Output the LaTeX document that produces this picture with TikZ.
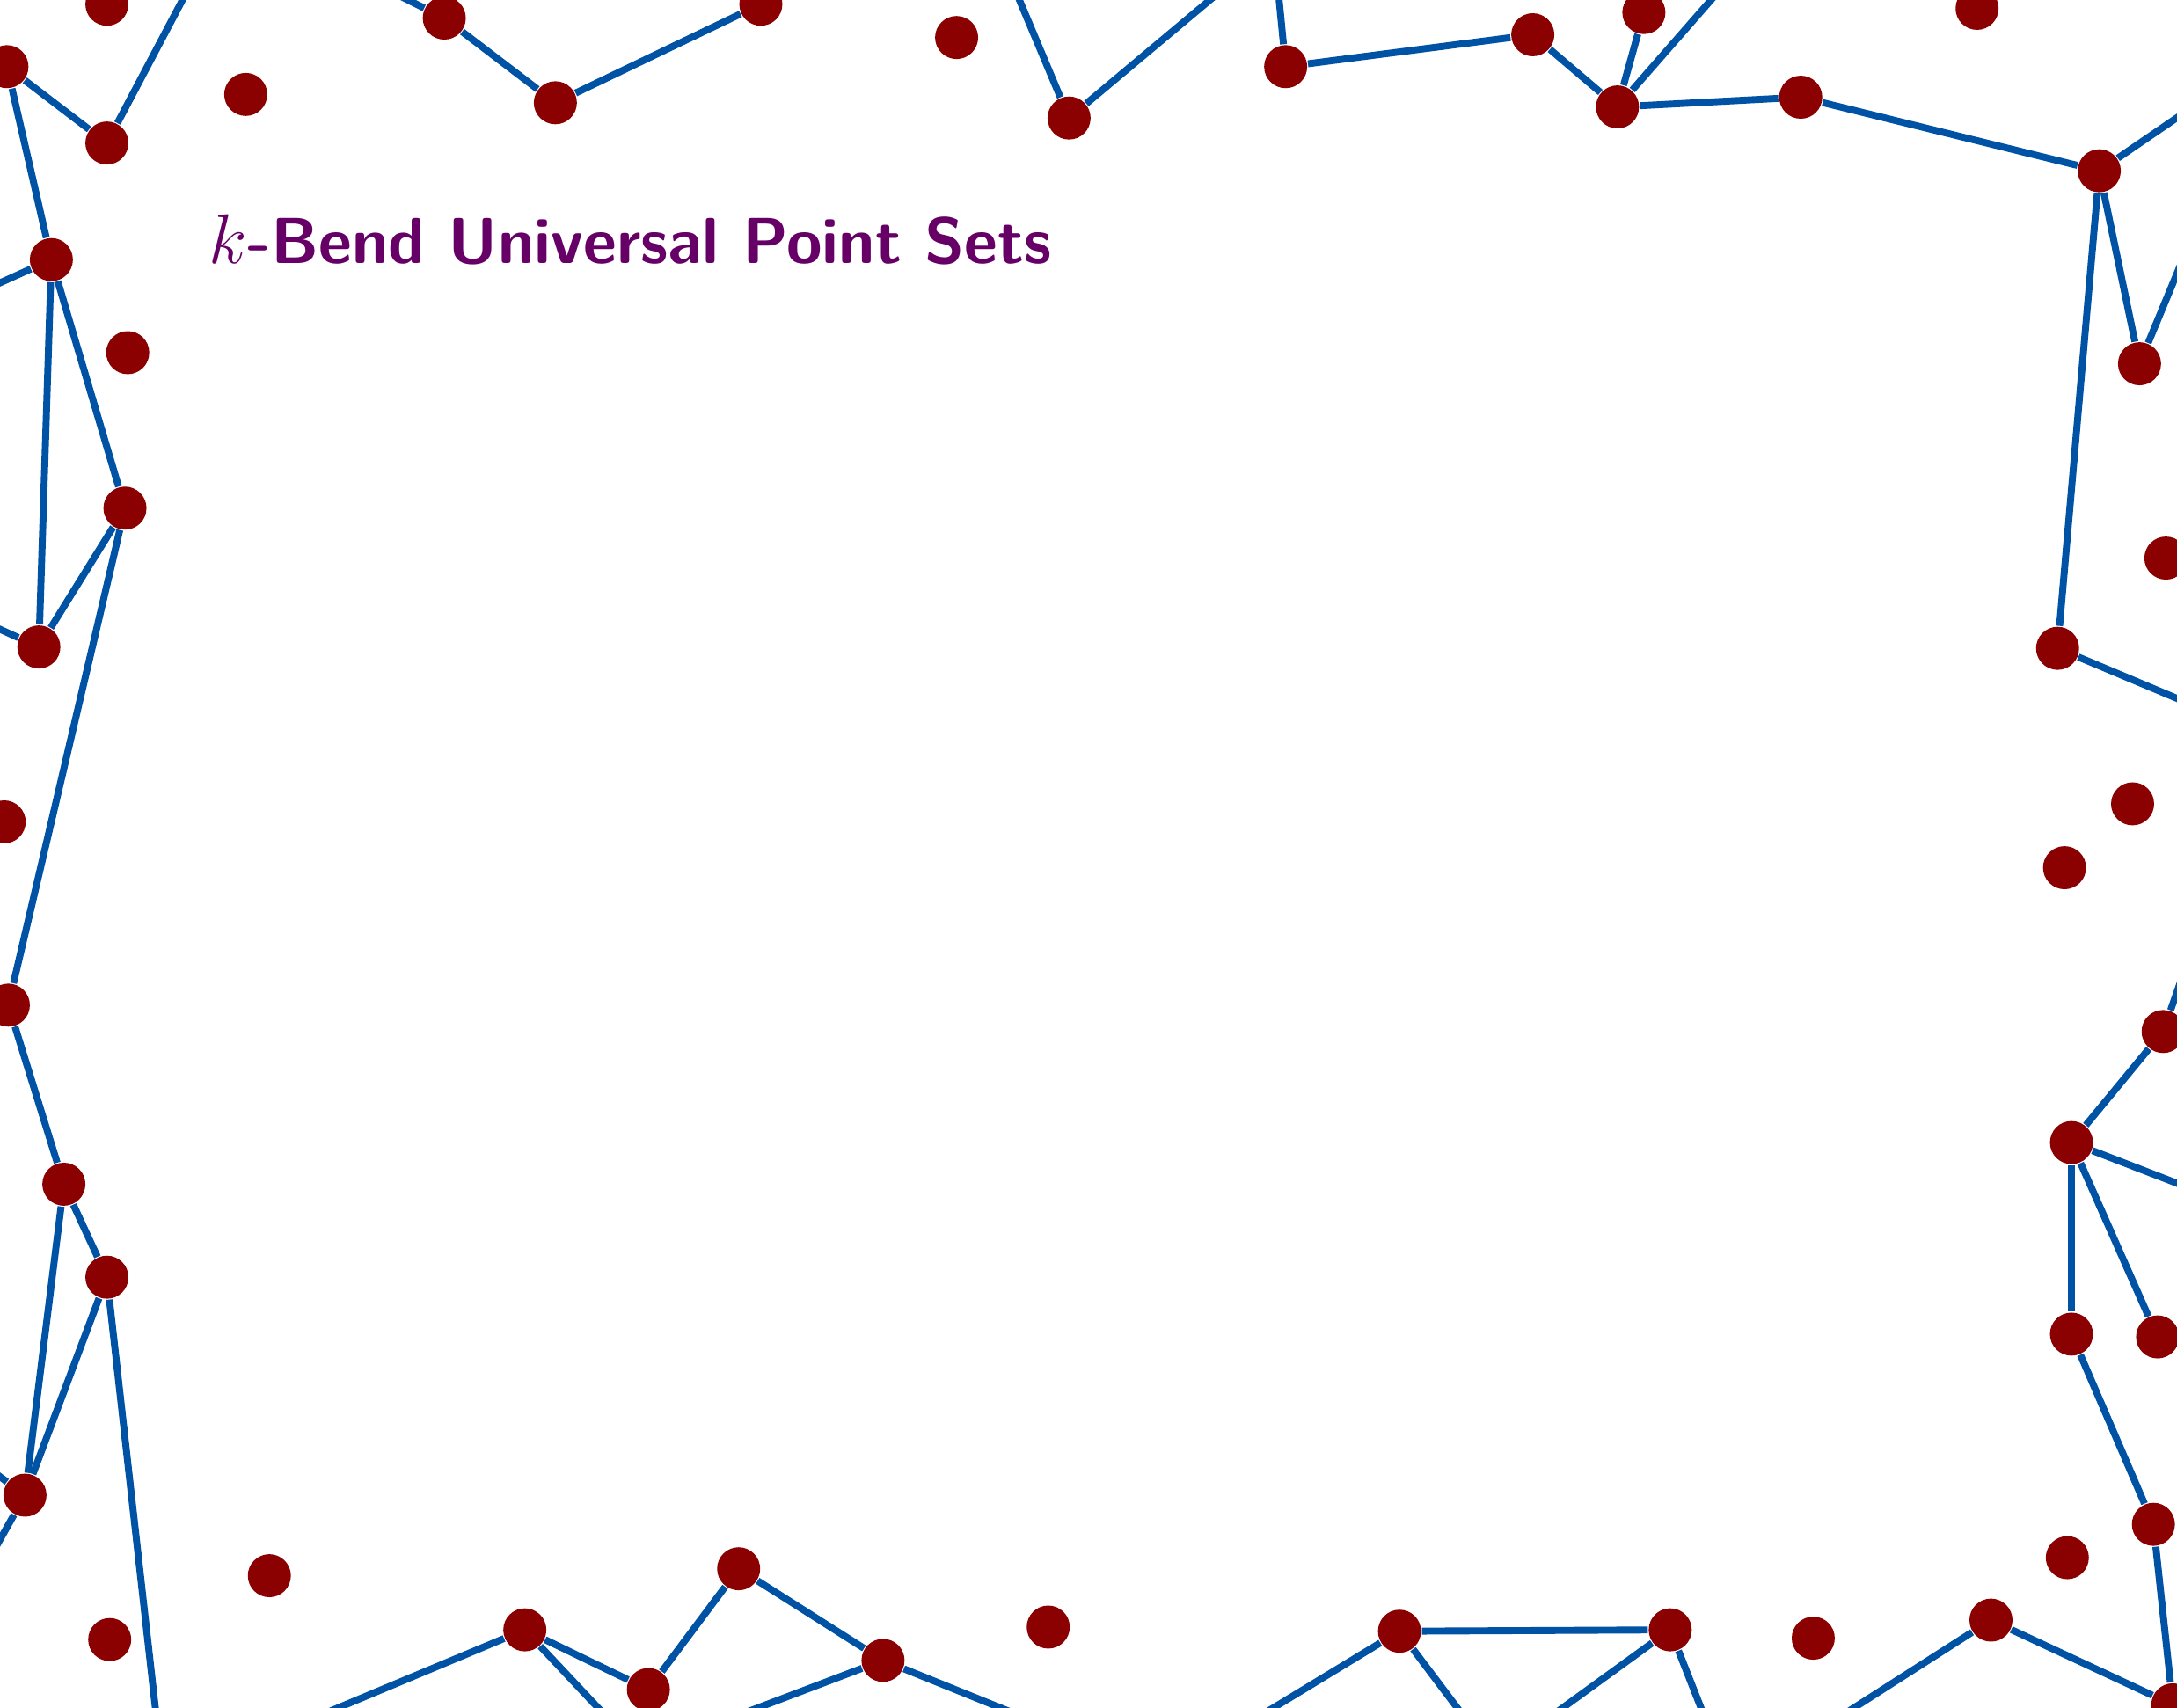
\documentclass[tikz,border=0pt]{standalone}
\usepackage{xcolor}
\definecolor{dotred}{HTML}{8B0000}
\definecolor{edgeblue}{HTML}{0052A5}
\definecolor{titlepurple}{HTML}{660066}
\begin{document}
\begin{tikzpicture}[x=0.1mm,y=-0.1mm,
  dot/.style={circle,fill=dotred,inner sep=0pt,minimum size=3.1mm},
  edge/.style={draw=edgeblue,line width=0.5mm},
  titletext/.style={text=titlepurple,font=\fontsize{13.3pt}{16pt}\selectfont\sffamily\bfseries,inner sep=0pt,anchor=base west}]
\clip (0,0) rectangle (1568,1230);
\useasboundingbox (0,0) rectangle (1568,1230);
\node[titletext] (title) at (150,190) {$k$-Bend Universal Point Sets};
% points
\node[dot] (p1) at (77,3) {};
\node[dot] (p2) at (5,48) {};
\node[dot] (p3) at (77,103) {};
\node[dot] (p4) at (177,68) {};
\node[dot] (p5) at (320,13) {};
\node[dot] (p6) at (400,74) {};
\node[dot] (p7) at (548,3) {};
\node[dot] (p8) at (689,27) {};
\node[dot] (p9) at (770,85) {};
\node[dot] (p10) at (926,48) {};
\node[dot] (p11) at (1104,25) {};
\node[dot] (p12) at (1184,9) {};
\node[dot] (p13) at (1165,77) {};
\node[dot] (p14) at (1297,70) {};
\node[dot] (p15) at (1424,6) {};
\node[dot] (p16) at (1512,123) {};
\node[dot] (p17) at (1541,262) {};
\node[dot] (p18) at (1560,402) {};
\node[dot] (p19) at (1482,467) {};
\node[dot] (p20) at (1536,579) {};
\node[dot] (p21) at (1487,625) {};
\node[dot] (p22) at (1558,743) {};
\node[dot] (p23) at (1492,823) {};
\node[dot] (p24) at (1554,963) {};
\node[dot] (p25) at (1492,961) {};
\node[dot] (p26) at (1551,1098) {};
\node[dot] (p27) at (1489,1122) {};
\node[dot] (p28) at (1434,1167) {};
\node[dot] (p29) at (1306,1180) {};
\node[dot] (p30) at (1203,1174) {};
\node[dot] (p31) at (1008,1175) {};
\node[dot] (p32) at (755,1172) {};
\node[dot] (p33) at (636,1196) {};
\node[dot] (p34) at (532,1130) {};
\node[dot] (p35) at (467,1217) {};
\node[dot] (p36) at (378,1174) {};
\node[dot] (p37) at (194,1135) {};
\node[dot] (p38) at (79,1181) {};
\node[dot] (p39) at (18,1077) {};
\node[dot] (p40) at (77,920) {};
\node[dot] (p41) at (46,853) {};
\node[dot] (p42) at (6,724) {};
\node[dot] (p43) at (3,592) {};
\node[dot] (p44) at (28,466) {};
\node[dot] (p45) at (90,366) {};
\node[dot] (p46) at (92,254) {};
\node[dot] (p47) at (37,187) {};
\node[dot] (p48) at (1565,1228) {};
% off-page ends
\coordinate (o1) at (133,-3);
\coordinate (o2) at (-5,206);
\coordinate (o3) at (-5,451);
\coordinate (o4) at (113,1240);
\coordinate (o5) at (-5,1060);
\coordinate (o6) at (-5,1118);
\coordinate (o7) at (288,-3);
\coordinate (o8) at (733,-3);
\coordinate (o9) at (875,-3);
\coordinate (o10) at (921,-3);
\coordinate (o11) at (1187,-3);
\coordinate (o12) at (1235,-3);
\coordinate (o13) at (1575,80);
\coordinate (o14) at (1575,180);
\coordinate (o15) at (1575,506);
\coordinate (o16) at (1572,703);
\coordinate (o17) at (1575,855);
\coordinate (o18) at (1320,1240);
\coordinate (o19) at (1112,1240);
\coordinate (o20) at (1229,1240);
\coordinate (o21) at (901,1240);
\coordinate (o22) at (1057,1240);
\coordinate (o23) at (520,1240);
\coordinate (o24) at (745,1240);
\coordinate (o25) at (220,1240);
\coordinate (o26) at (440,1240);
% edges
\draw[edge] (p3) -- (o1);
\draw[edge] (p2) -- (p3);
\draw[edge] (p2) -- (p47);
\draw[edge] (p47) -- (o2);
\draw[edge] (p47) -- (p45);
\draw[edge] (p47) -- (p44);
\draw[edge] (p45) -- (p44);
\draw[edge] (p44) -- (o3);
\draw[edge] (p45) -- (p42);
\draw[edge] (p42) -- (p41);
\draw[edge] (p41) -- (p40);
\draw[edge] (p41) -- (p39);
\draw[edge] (p40) -- (p39);
\draw[edge] (p40) -- (o4);
\draw[edge] (p39) -- (o5);
\draw[edge] (p39) -- (o6);
\draw[edge] (p5) -- (o7);
\draw[edge] (p5) -- (p6);
\draw[edge] (p6) -- (p7);
\draw[edge] (p9) -- (o8);
\draw[edge] (p9) -- (o9);
\draw[edge] (p10) -- (o10);
\draw[edge] (p10) -- (p11);
\draw[edge] (p11) -- (p13);
\draw[edge] (p13) -- (p12);
\draw[edge] (p12) -- (o11);
\draw[edge] (p13) -- (o12);
\draw[edge] (p13) -- (p14);
\draw[edge] (p14) -- (p16);
\draw[edge] (p16) -- (o13);
\draw[edge] (p16) -- (p17);
\draw[edge] (p17) -- (o14);
\draw[edge] (p16) -- (p19);
\draw[edge] (p19) -- (o15);
\draw[edge] (p22) -- (o16);
\draw[edge] (p22) -- (p23);
\draw[edge] (p23) -- (o17);
\draw[edge] (p23) -- (p25);
\draw[edge] (p23) -- (p24);
\draw[edge] (p25) -- (p26);
\draw[edge] (p26) -- (p48);
\draw[edge] (p28) -- (p48);
\draw[edge] (p28) -- (o18);
\draw[edge] (p30) -- (p31);
\draw[edge] (p30) -- (o19);
\draw[edge] (p30) -- (o20);
\draw[edge] (p31) -- (o21);
\draw[edge] (p31) -- (o22);
\draw[edge] (p33) -- (o23);
\draw[edge] (p33) -- (o24);
\draw[edge] (p33) -- (p34);
\draw[edge] (p34) -- (p35);
\draw[edge] (p35) -- (p36);
\draw[edge] (p36) -- (o25);
\draw[edge] (p36) -- (o26);
\end{tikzpicture}
\end{document}
